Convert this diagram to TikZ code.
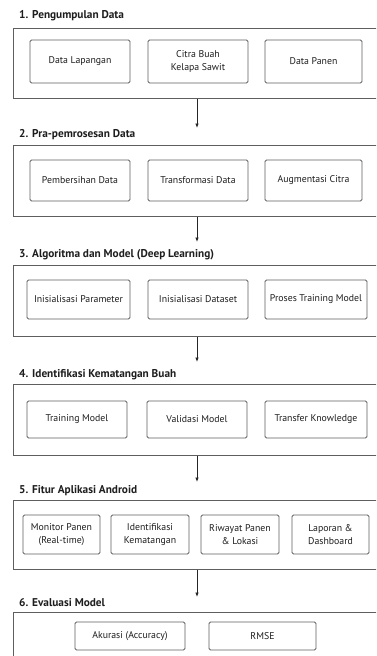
\documentclass[tikz,border=0pt]{standalone}
\usepackage{fontspec}
\setmainfont{PT Sans}
\usetikzlibrary{arrows.meta}
\definecolor{linec}{HTML}{5E5E5E}
\definecolor{txt}{HTML}{1E1E1E}
\begin{document}
\begin{tikzpicture}[x=1pt,y=-1pt,
  outerbox/.style={draw=linec, line width=0.9pt, anchor=north west, inner sep=0, minimum width=400pt},
  innerbox/.style={draw=linec, line width=0.9pt, rounded corners=1.5pt, align=center, text=txt, font=\fontsize{9.8}{12.8}\selectfont, inner sep=0},
  titletext/.style={anchor=base west, inner sep=0, text=txt, font=\fontsize{11.3}{13}\selectfont\bfseries},
  flowarrow/.style={draw=black!85, line width=0.8pt, -{Latex[length=4.5pt,width=3.6pt]}}]
\useasboundingbox (0,0) rectangle (376,656);
\clip (0,0) rectangle (376,656);
\fill[white] (0,0) rectangle (376,656);

% Section 1
\node[titletext] (h1) at (19,18.5) {1. Pengumpulan Data};
\node[outerbox, minimum height=70pt] (o1) at (13,28) {};
\node[innerbox, minimum width=100pt, minimum height=43pt] (a1) at (80,61.5) {Data Lapangan};
\node[innerbox, minimum width=100pt, minimum height=43pt] (a2) at (198,61.5) {Citra Buah\\Kelapa Sawit};
\node[innerbox, minimum width=97pt, minimum height=43pt] (a3) at (313.5,61.5) {Data Panen};

% Section 2
\node[titletext] (h2) at (19,137.5) {2. Pra-pemrosesan Data};
\node[outerbox, minimum height=71pt] (o2) at (13,145) {};
\node[innerbox, minimum width=100pt, minimum height=41pt] (b1) at (80,180.5) {Pembersihan Data};
\node[innerbox, minimum width=100pt, minimum height=41pt] (b2) at (198,180.5) {Transformasi Data};
\node[innerbox, minimum width=97pt, minimum height=41pt] (b3) at (313.5,180.5) {Augmentasi Citra};

% Section 3
\node[titletext] (h3) at (19,257.5) {3. Algoritma dan Model (Deep Learning)};
\node[outerbox, minimum height=71pt] (o3) at (13,265) {};
\node[innerbox, minimum width=103pt, minimum height=39pt] (c1) at (78.5,299.5) {Inisialisasi Parameter};
\node[innerbox, minimum width=100pt, minimum height=39pt] (c2) at (198,299.5) {Inisialisasi Dataset};
\node[innerbox, minimum width=102pt, minimum height=39pt] (c3) at (316,299.5) {Proses Training Model};

% Section 4
\node[titletext] (h4) at (19,377.5) {4. Identifikasi Kematangan Buah};
\node[outerbox, minimum height=71pt] (o4) at (13,384) {};
\node[innerbox, minimum width=100pt, minimum height=37pt] (d1) at (77,419.5) {Training Model};
\node[innerbox, minimum width=100pt, minimum height=37pt] (d2) at (197,419.5) {Validasi Model};
\node[innerbox, minimum width=102pt, minimum height=37pt] (d3) at (316,419.5) {Transfer Knowledge};

% Section 5
\node[titletext] (h5) at (19,493.5) {5. Fitur Aplikasi Android};
\node[outerbox, minimum height=69pt] (o5) at (13,500) {};
\node[innerbox, minimum width=77pt, minimum height=39pt] (e1) at (61.5,534.5) {Monitor Panen\\(Real-time)};
\node[innerbox, minimum width=78pt, minimum height=39pt] (e2) at (150,534.5) {Identifikasi\\Kematangan};
\node[innerbox, minimum width=78pt, minimum height=39pt] (e3) at (240,534.5) {Riwayat Panen\\\& Lokasi};
\node[innerbox, minimum width=77pt, minimum height=39pt] (e4) at (330.5,534.5) {Laporan \&\\Dashboard};

% Section 6
\node[titletext] (h6) at (19,606) {6. Evaluasi Model};
\node[outerbox, minimum height=90pt] (o6) at (13,612) {};
\node[innerbox, minimum width=110pt, minimum height=28pt] (f1) at (130,636) {Akurasi (Accuracy)};
\node[innerbox, minimum width=107pt, minimum height=28pt] (f2) at (262.5,636) {RMSE};

% Arrows
\coordinate (t2) at (197,128);
\coordinate (t3) at (197,242);
\coordinate (t4) at (197,362);
\coordinate (t5) at (197,482);
\coordinate (t6) at (197,597);
\draw[flowarrow] (o1.south -| t2) -- (t2);
\draw[flowarrow] (o2.south -| t3) -- (t3);
\draw[flowarrow] (o3.south -| t4) -- (t4);
\draw[flowarrow] (o4.south -| t5) -- (t5);
\draw[flowarrow] (o5.south -| t6) -- (t6);
\end{tikzpicture}
\end{document}
